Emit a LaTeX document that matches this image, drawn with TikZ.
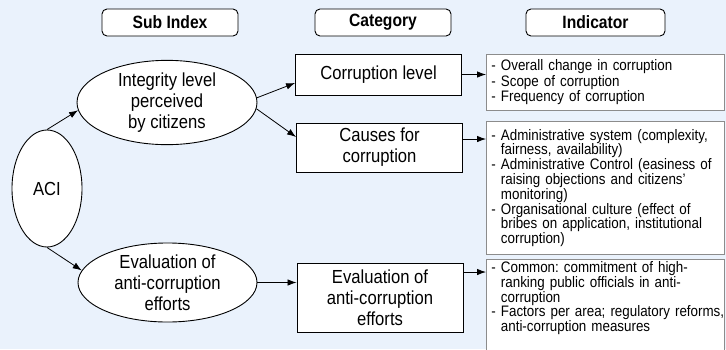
\documentclass[tikz,border=0pt]{standalone}
\usepackage{fontspec}
\setmainfont{Liberation Sans}[FakeStretch=0.88]
\usetikzlibrary{shapes.geometric,positioning,arrows.meta}
\definecolor{paleblue}{RGB}{234,242,252}
\definecolor{framegray}{RGB}{140,140,140}
\newcommand{\bigtxt}{\fontsize{18.9}{21}\selectfont}
\newcommand{\smalltxt}{\fontsize{15.2}{14.8}\selectfont}
\newcommand{\gap}{\hphantom{-~}}
\frenchspacing

\begin{document}
\begin{tikzpicture}[x=1pt, y=-1pt,
    headbox/.style={draw, line width=0.9pt, rounded corners=5pt, fill=white, minimum width=136pt, minimum height=27pt, inner sep=0pt, font=\fontsize{17.8}{20}\selectfont\bfseries},
    subell/.style={ellipse, draw, line width=0.9pt, fill=white, inner sep=0pt, align=center, font=\bigtxt},
    catbox/.style={draw, line width=0.9pt, fill=white, minimum width=166pt, inner sep=0pt, align=center, font=\bigtxt},
    indbox/.style={draw=framegray, line width=0.8pt, fill=white, anchor=north west, text width=228pt, inner xsep=5pt, align=left, font=\smalltxt},
    arr/.style={-{Latex[length=9pt,width=6.5pt]}, line width=0.8pt}]

    % Page and background
    \useasboundingbox (0,0) rectangle (726,349);
    \clip (0,0) rectangle (726,349);
    \fill[paleblue] (0,0) rectangle (726,349);

    % Column heads
    \node[headbox] (hsub) at (170,22.5) {Sub Index};
    \node[headbox] (hcat) at (383,22.5) {Category};
    \node[headbox, minimum width=139pt] (hind) at (595.5,22.5) {Indicator};

    % Index and sub indices
    \node[subell, minimum width=70pt, minimum height=117pt] (aci) at (47,188.5) {ACI};
    \node[subell, minimum width=180pt, minimum height=79pt] (integ) at (167,102.5) {Integrity level\\perceived\\by citizens};
    \node[subell, minimum width=179pt, minimum height=79pt] (evell) at (167.5,282.5) {Evaluation of\\anti-corruption\\efforts};

    % Categories
    \node[catbox, minimum height=41pt] (corlev) at (378.5,74.5) {Corruption level};
    \node[catbox, minimum height=49pt] (causes) at (379.5,147.5) {Causes for\\corruption};
    \node[catbox, minimum height=69pt] (evbox) at (380,297.5) {Evaluation of\\anti-corruption\\efforts};

    % Indicators
    \node[indbox, minimum height=56pt, font=\fontsize{15.2}{15.5}\selectfont] (ind1) at (486,54)
        {-~Overall change in corruption\\-~Scope of corruption\\-~Frequency of corruption};
    \node[indbox, minimum height=133pt] (ind2) at (486,121)
        {\mbox{-~Administrative system (complexity,}\\\gap fairness, availability)\\\mbox{-~Administrative Control (easiness of}\\\gap raising objections and citizens'\\\gap monitoring)\\-~Organisational culture (effect of\\\mbox{\gap bribes on application, institutional}\\\gap corruption)};
    \node[indbox, inner ysep=2pt, text depth=95pt] (ind3) at (486,259)
        {\mbox{-~Common: commitment of high-}\\\mbox{\gap ranking public officials in anti-}\\\gap corruption\\\mbox{-~Factors per area; regulatory reforms,}\\\gap anti-corruption measures};

    % Connectors
    \draw[arr] (aci.north) -- (integ.185);
    \draw[arr] (aci.south) -- (evell.172);
    \draw[arr] (integ.3) -- ([yshift=-8.5pt]corlev.west);
    \draw[arr] (integ.-4) -- ([yshift=10.5pt]causes.west);
    \draw[arr] (evell.east) -- (evell.east -| evbox.west);
    \draw[arr] (corlev.east) -- (corlev.east -| ind1.west);
    \draw[arr] ([yshift=8.5pt]causes.east) -- ([yshift=8.5pt]causes.east -| ind2.west);
    \draw[arr] ([yshift=25.5pt]evbox.east) -- ([yshift=25.5pt]evbox.east -| ind3.west);

\end{tikzpicture}
\end{document}
